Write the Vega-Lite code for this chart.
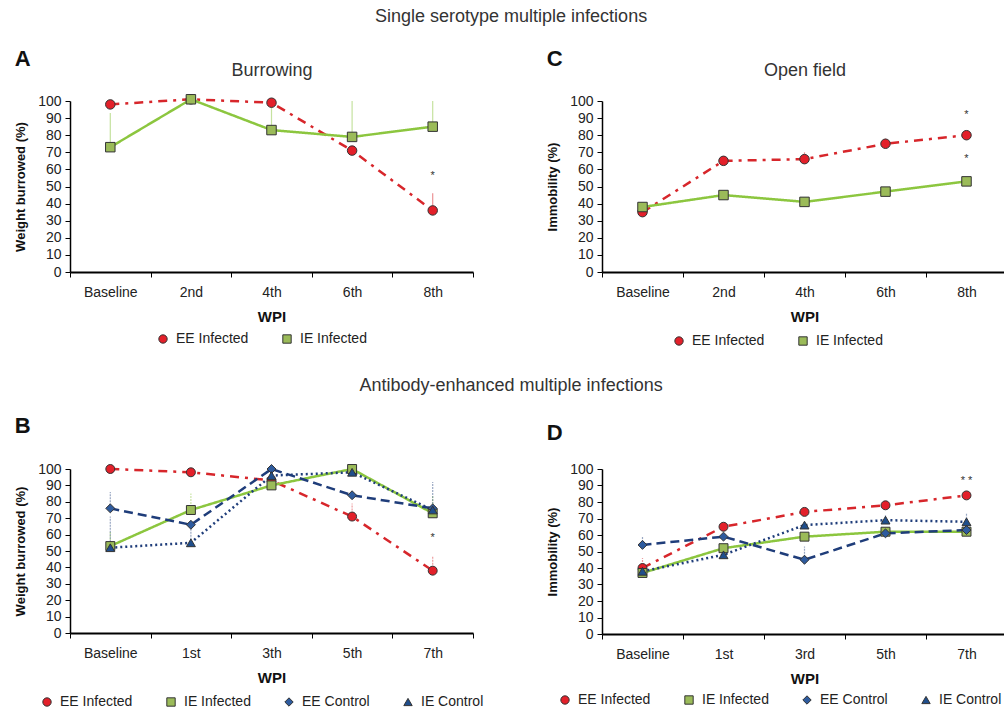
{
  "$schema": "https://vega.github.io/schema/vega-lite/v6.json",
  "padding": {"left": 14, "top": 8, "right": 0, "bottom": 0},
  "background": "white",
  "config": {
    "font": "Liberation Sans",
    "view": {"stroke": null},
    "axis": {"grid": false, "domainColor": "#000", "tickColor": "#000", "labelColor": "#222", "titleColor": "#111", "labelFont": "Liberation Sans", "titleFont": "Liberation Sans"},
    "axisY": {"labelFontSize": 14, "titleFontSize": 13, "titleFontWeight": "bold", "tickSize": 5, "labelPadding": 4, "titlePadding": 10, "domainWidth": 1.5},
    "axisX": {"labelFontSize": 14, "titleFontSize": 15, "titleFontWeight": "bold", "tickSize": 5, "labelPadding": 8, "titlePadding": 10, "domainWidth": 2, "tickBand": "extent", "labelAngle": 0},
    "legend": {"direction": "horizontal", "labelFontSize": 14, "labelColor": "#222", "labelFont": "Liberation Sans", "columnPadding": 31, "symbolSize": 70, "labelOffset": 6, "symbolOpacity": 1, "symbolStrokeColor": "#333", "symbolStrokeWidth": 1},
    "title": {"font": "Liberation Sans", "color": "#333"}
  },
  "resolve": {"scale": {"color": "independent", "stroke": "independent", "shape": "independent", "strokeDash": "independent"}, "legend": {"color": "independent", "shape": "independent", "stroke": "independent", "strokeDash": "independent"}},
  "datasets": {
    "pts": [
      {"p": "A", "s": "EE Infected", "w": "Baseline", "v": 98},
      {"p": "A", "s": "EE Infected", "w": "2nd", "v": 101},
      {"p": "A", "s": "EE Infected", "w": "4th", "v": 99},
      {"p": "A", "s": "EE Infected", "w": "6th", "v": 71},
      {"p": "A", "s": "EE Infected", "w": "8th", "v": 36, "e": 46},
      {"p": "A", "s": "IE Infected", "w": "Baseline", "v": 73, "e": 93},
      {"p": "A", "s": "IE Infected", "w": "2nd", "v": 101},
      {"p": "A", "s": "IE Infected", "w": "4th", "v": 83, "e": 99},
      {"p": "A", "s": "IE Infected", "w": "6th", "v": 79, "e": 100},
      {"p": "A", "s": "IE Infected", "w": "8th", "v": 85, "e": 100},
      {"p": "C", "s": "EE Infected", "w": "Baseline", "v": 35},
      {"p": "C", "s": "EE Infected", "w": "2nd", "v": 65},
      {"p": "C", "s": "EE Infected", "w": "4th", "v": 66, "e": 70},
      {"p": "C", "s": "EE Infected", "w": "6th", "v": 75, "e": 78},
      {"p": "C", "s": "EE Infected", "w": "8th", "v": 80},
      {"p": "C", "s": "IE Infected", "w": "Baseline", "v": 38},
      {"p": "C", "s": "IE Infected", "w": "2nd", "v": 45},
      {"p": "C", "s": "IE Infected", "w": "4th", "v": 41},
      {"p": "C", "s": "IE Infected", "w": "6th", "v": 47},
      {"p": "C", "s": "IE Infected", "w": "8th", "v": 53},
      {"p": "B", "s": "EE Infected", "w": "Baseline", "v": 100},
      {"p": "B", "s": "EE Infected", "w": "1st", "v": 98},
      {"p": "B", "s": "EE Infected", "w": "3th", "v": 93},
      {"p": "B", "s": "EE Infected", "w": "5th", "v": 71, "e": 79},
      {"p": "B", "s": "EE Infected", "w": "7th", "v": 38, "e": 47},
      {"p": "B", "s": "IE Infected", "w": "Baseline", "v": 53, "e": 62},
      {"p": "B", "s": "IE Infected", "w": "1st", "v": 75, "e": 85},
      {"p": "B", "s": "IE Infected", "w": "3th", "v": 90},
      {"p": "B", "s": "IE Infected", "w": "5th", "v": 100},
      {"p": "B", "s": "IE Infected", "w": "7th", "v": 73, "e": 84},
      {"p": "B", "s": "EE Control", "w": "Baseline", "v": 76, "e": 86},
      {"p": "B", "s": "EE Control", "w": "1st", "v": 66},
      {"p": "B", "s": "EE Control", "w": "3th", "v": 100},
      {"p": "B", "s": "EE Control", "w": "5th", "v": 84},
      {"p": "B", "s": "EE Control", "w": "7th", "v": 76},
      {"p": "B", "s": "IE Control", "w": "Baseline", "v": 52, "e": 71},
      {"p": "B", "s": "IE Control", "w": "1st", "v": 55, "e": 66},
      {"p": "B", "s": "IE Control", "w": "3th", "v": 96},
      {"p": "B", "s": "IE Control", "w": "5th", "v": 98},
      {"p": "B", "s": "IE Control", "w": "7th", "v": 75, "e": 92},
      {"p": "D", "s": "EE Infected", "w": "Baseline", "v": 40, "e": 46},
      {"p": "D", "s": "EE Infected", "w": "1st", "v": 65},
      {"p": "D", "s": "EE Infected", "w": "3rd", "v": 74},
      {"p": "D", "s": "EE Infected", "w": "5th", "v": 78},
      {"p": "D", "s": "EE Infected", "w": "7th", "v": 84},
      {"p": "D", "s": "IE Infected", "w": "Baseline", "v": 37},
      {"p": "D", "s": "IE Infected", "w": "1st", "v": 52},
      {"p": "D", "s": "IE Infected", "w": "3rd", "v": 59},
      {"p": "D", "s": "IE Infected", "w": "5th", "v": 62},
      {"p": "D", "s": "IE Infected", "w": "7th", "v": 62},
      {"p": "D", "s": "EE Control", "w": "Baseline", "v": 54, "e": 59},
      {"p": "D", "s": "EE Control", "w": "1st", "v": 59},
      {"p": "D", "s": "EE Control", "w": "3rd", "v": 45, "e": 53},
      {"p": "D", "s": "EE Control", "w": "5th", "v": 61},
      {"p": "D", "s": "EE Control", "w": "7th", "v": 63},
      {"p": "D", "s": "IE Control", "w": "Baseline", "v": 38},
      {"p": "D", "s": "IE Control", "w": "1st", "v": 48},
      {"p": "D", "s": "IE Control", "w": "3rd", "v": 66},
      {"p": "D", "s": "IE Control", "w": "5th", "v": 69, "e": 72},
      {"p": "D", "s": "IE Control", "w": "7th", "v": 68, "e": 73}
    ],
    "stars": [
      {"p": "A", "w": "8th", "v": 56, "t": "*"},
      {"p": "C", "w": "8th", "v": 92, "t": "*"},
      {"p": "C", "w": "8th", "v": 66, "t": "*"},
      {"p": "B", "w": "7th", "v": 58, "t": "*"},
      {"p": "D", "w": "7th", "v": 93, "t": "* *"}
    ]
  },
  "vconcat": [
    {
      "title": {"text": "Single serotype multiple infections", "fontSize": 18, "fontWeight": "normal", "offset": 22, "anchor": "middle"},
      "spacing": 72,
      "resolve": {"scale": {"color": "independent", "stroke": "independent", "shape": "independent", "strokeDash": "independent"}, "legend": {"color": "independent", "shape": "independent", "stroke": "independent", "strokeDash": "independent"}},
      "hconcat": [
        {
          "width": 403, "height": 171,
          "title": {"text": "A", "anchor": "start", "fontSize": 22, "fontWeight": "bold", "color": "#111", "offset": -10},
          "resolve": {"axis": {"x": "independent"}},
          "encoding": {
            "x": {"field": "w", "type": "nominal", "scale": {"type": "band", "domain": ["Baseline", "2nd", "4th", "6th", "8th"], "paddingInner": 0, "paddingOuter": 0}, "axis": null},
            "y": {"field": "v", "type": "quantitative", "scale": {"domain": [0, 100]}, "axis": {"title": "Weight burrowed (%)", "values": [0, 10, 20, 30, 40, 50, 60, 70, 80, 90, 100]}}
          },
          "layer": [
            {
              "data": {"name": "pts"},
              "transform": [{"filter": "datum.p == 'A' && isValid(datum.e)"}],
              "mark": {"type": "rule", "strokeWidth": 1.2, "opacity": 0.5},
              "encoding": {
                "y2": {"field": "e"},
                "stroke": {"field": "s", "type": "nominal", "scale": {"range": ["#d7262b", "#8cc63f"]}, "legend": null}
              }
            },
            {
              "data": {"name": "pts"},
              "transform": [{"filter": "datum.p == 'A'"}],
              "mark": {"type": "line", "strokeWidth": 2.5},
              "encoding": {
                "x": {"field": "w", "type": "nominal", "scale": {"type": "band", "domain": ["Baseline", "2nd", "4th", "6th", "8th"], "paddingInner": 0, "paddingOuter": 0}, "axis": {"title": "WPI", "orient": "bottom"}},
                "stroke": {"field": "s", "type": "nominal", "scale": {"range": ["#d7262b", "#8cc63f"]}, "legend": null},
                "strokeDash": {"field": "s", "type": "nominal", "scale": {"range": [[9, 6, 3, 6], [1, 0]]}, "legend": null}
              }
            },
            {
              "data": {"name": "pts"},
              "transform": [{"filter": "datum.p == 'A'"}],
              "mark": {"type": "point", "filled": true, "size": 90, "stroke": "#333", "strokeWidth": 1, "opacity": 1},
              "encoding": {
                "color": {"field": "s", "type": "nominal", "title": null, "scale": {"domain": ["EE Infected", "IE Infected"], "range": ["#e3202a", "#9bbb59"]}, "legend": {"orient": "none", "legendX": 86, "legendY": 231, "title": null, "encode": {"symbols": {"update": {"stroke": {"value": "#333"}, "strokeWidth": {"value": 1}, "opacity": {"value": 1}}}}}},
                "shape": {"field": "s", "type": "nominal", "title": null, "scale": {"domain": ["EE Infected", "IE Infected"], "range": ["circle", "square"]}}
              }
            },
            {
              "data": {"name": "stars"},
              "transform": [{"filter": "datum.p == 'A'"}],
              "mark": {"type": "text", "fontSize": 11, "color": "#333"},
              "encoding": {
                "x": {"field": "w", "type": "nominal", "scale": {"type": "band", "domain": ["Baseline", "2nd", "4th", "6th", "8th"], "paddingInner": 0, "paddingOuter": 0}, "axis": {"orient": "top", "title": "Burrowing", "labels": false, "ticks": false, "domain": false, "titleFontSize": 18, "titleFontWeight": "normal", "titleColor": "#333", "titlePadding": 22}},
                "text": {"field": "t"}
              }
            }
          ]
        },
        {
          "width": 405, "height": 171,
          "title": {"text": "C", "anchor": "start", "fontSize": 22, "fontWeight": "bold", "color": "#111", "offset": -10},
          "resolve": {"axis": {"x": "independent"}},
          "encoding": {
            "x": {"field": "w", "type": "nominal", "scale": {"type": "band", "domain": ["Baseline", "2nd", "4th", "6th", "8th"], "paddingInner": 0, "paddingOuter": 0}, "axis": null},
            "y": {"field": "v", "type": "quantitative", "scale": {"domain": [0, 100]}, "axis": {"title": "Immobility (%)", "values": [0, 10, 20, 30, 40, 50, 60, 70, 80, 90, 100]}}
          },
          "layer": [
            {
              "data": {"name": "pts"},
              "transform": [{"filter": "datum.p == 'C' && isValid(datum.e)"}],
              "mark": {"type": "rule", "strokeWidth": 1.2, "opacity": 0.5},
              "encoding": {
                "y2": {"field": "e"},
                "stroke": {"field": "s", "type": "nominal", "scale": {"range": ["#d7262b", "#8cc63f"]}, "legend": null}
              }
            },
            {
              "data": {"name": "pts"},
              "transform": [{"filter": "datum.p == 'C'"}],
              "mark": {"type": "line", "strokeWidth": 2.5},
              "encoding": {
                "x": {"field": "w", "type": "nominal", "scale": {"type": "band", "domain": ["Baseline", "2nd", "4th", "6th", "8th"], "paddingInner": 0, "paddingOuter": 0}, "axis": {"title": "WPI", "orient": "bottom"}},
                "stroke": {"field": "s", "type": "nominal", "scale": {"range": ["#d7262b", "#8cc63f"]}, "legend": null},
                "strokeDash": {"field": "s", "type": "nominal", "scale": {"range": [[9, 6, 3, 6], [1, 0]]}, "legend": null}
              }
            },
            {
              "data": {"name": "pts"},
              "transform": [{"filter": "datum.p == 'C'"}],
              "mark": {"type": "point", "filled": true, "size": 90, "stroke": "#333", "strokeWidth": 1, "opacity": 1},
              "encoding": {
                "color": {"field": "s", "type": "nominal", "title": null, "scale": {"domain": ["EE Infected", "IE Infected"], "range": ["#e3202a", "#9bbb59"]}, "legend": {"orient": "none", "legendX": 70, "legendY": 233, "title": null, "encode": {"symbols": {"update": {"stroke": {"value": "#333"}, "strokeWidth": {"value": 1}, "opacity": {"value": 1}}}}}},
                "shape": {"field": "s", "type": "nominal", "title": null, "scale": {"domain": ["EE Infected", "IE Infected"], "range": ["circle", "square"]}}
              }
            },
            {
              "data": {"name": "stars"},
              "transform": [{"filter": "datum.p == 'C'"}],
              "mark": {"type": "text", "fontSize": 11, "color": "#333"},
              "encoding": {
                "x": {"field": "w", "type": "nominal", "scale": {"type": "band", "domain": ["Baseline", "2nd", "4th", "6th", "8th"], "paddingInner": 0, "paddingOuter": 0}, "axis": {"orient": "top", "title": "Open field", "labels": false, "ticks": false, "domain": false, "titleFontSize": 18, "titleFontWeight": "normal", "titleColor": "#333", "titlePadding": 22}},
                "text": {"field": "t"}
              }
            }
          ]
        }
      ]
    },
    {
      "title": {"text": "Antibody-enhanced multiple infections", "fontSize": 18, "fontWeight": "normal", "offset": 20, "anchor": "middle"},
      "spacing": 62,
      "resolve": {"scale": {"color": "independent", "stroke": "independent", "shape": "independent", "strokeDash": "independent"}, "legend": {"color": "independent", "shape": "independent", "stroke": "independent", "strokeDash": "independent"}},
      "hconcat": [
        {
          "width": 403, "height": 164,
          "title": {"text": "B", "anchor": "start", "fontSize": 22, "fontWeight": "bold", "color": "#111", "offset": 24},
          "encoding": {
            "x": {"field": "w", "type": "nominal", "scale": {"type": "band", "domain": ["Baseline", "1st", "3th", "5th", "7th"], "paddingInner": 0, "paddingOuter": 0}, "axis": {"title": "WPI"}},
            "y": {"field": "v", "type": "quantitative", "scale": {"domain": [0, 100]}, "axis": {"title": "Weight burrowed (%)", "values": [0, 10, 20, 30, 40, 50, 60, 70, 80, 90, 100]}}
          },
          "layer": [
            {
              "data": {"name": "pts"},
              "transform": [{"filter": "datum.p == 'B' && isValid(datum.e)"}],
              "mark": {"type": "rule", "strokeWidth": 1.2, "opacity": 0.45, "strokeDash": [2, 1]},
              "encoding": {
                "y2": {"field": "e"},
                "stroke": {"field": "s", "type": "nominal", "scale": {"range": ["#1f3d7a", "#d7262b", "#1f3d7a", "#8cc63f"]}, "legend": null}
              }
            },
            {
              "data": {"name": "pts"},
              "transform": [{"filter": "datum.p == 'B'"}],
              "mark": {"type": "line", "strokeWidth": 2.5},
              "encoding": {
                "stroke": {"field": "s", "type": "nominal", "scale": {"range": ["#1f3d7a", "#d7262b", "#1f3d7a", "#8cc63f"]}, "legend": null},
                "strokeDash": {"field": "s", "type": "nominal", "scale": {"range": [[9, 5], [9, 6, 3, 6], [2, 3], [1, 0]]}, "legend": null}
              }
            },
            {
              "data": {"name": "pts"},
              "transform": [{"filter": "datum.p == 'B'"}],
              "mark": {"type": "point", "filled": true, "size": 80, "stroke": "#333", "strokeWidth": 1, "opacity": 1},
              "encoding": {
                "color": {"field": "s", "type": "nominal", "title": null, "scale": {"domain": ["EE Infected", "IE Infected", "EE Control", "IE Control"], "range": ["#e3202a", "#9bbb59", "#2e5b9e", "#1f4e8c"]}, "legend": {"orient": "none", "legendX": -30, "legendY": 226, "title": null, "encode": {"symbols": {"update": {"stroke": {"value": "#333"}, "strokeWidth": {"value": 1}, "opacity": {"value": 1}}}}}},
                "shape": {"field": "s", "type": "nominal", "title": null, "scale": {"domain": ["EE Infected", "IE Infected", "EE Control", "IE Control"], "range": ["circle", "square", "diamond", "triangle-up"]}}
              }
            },
            {
              "data": {"name": "stars"},
              "transform": [{"filter": "datum.p == 'B'"}],
              "mark": {"type": "text", "fontSize": 11, "color": "#333"},
              "encoding": {"text": {"field": "t"}}
            }
          ]
        },
        {
          "width": 405, "height": 165,
          "title": {"text": "D", "anchor": "start", "fontSize": 22, "fontWeight": "bold", "color": "#111", "offset": 17},
          "encoding": {
            "x": {"field": "w", "type": "nominal", "scale": {"type": "band", "domain": ["Baseline", "1st", "3rd", "5th", "7th"], "paddingInner": 0, "paddingOuter": 0}, "axis": {"title": "WPI"}},
            "y": {"field": "v", "type": "quantitative", "scale": {"domain": [0, 100]}, "axis": {"title": "Immobility (%)", "values": [0, 10, 20, 30, 40, 50, 60, 70, 80, 90, 100]}}
          },
          "layer": [
            {
              "data": {"name": "pts"},
              "transform": [{"filter": "datum.p == 'D' && isValid(datum.e)"}],
              "mark": {"type": "rule", "strokeWidth": 1.2, "opacity": 0.45, "strokeDash": [2, 1]},
              "encoding": {
                "y2": {"field": "e"},
                "stroke": {"field": "s", "type": "nominal", "scale": {"range": ["#1f3d7a", "#d7262b", "#1f3d7a", "#8cc63f"]}, "legend": null}
              }
            },
            {
              "data": {"name": "pts"},
              "transform": [{"filter": "datum.p == 'D'"}],
              "mark": {"type": "line", "strokeWidth": 2.5},
              "encoding": {
                "stroke": {"field": "s", "type": "nominal", "scale": {"range": ["#1f3d7a", "#d7262b", "#1f3d7a", "#8cc63f"]}, "legend": null},
                "strokeDash": {"field": "s", "type": "nominal", "scale": {"range": [[9, 5], [9, 6, 3, 6], [2, 3], [1, 0]]}, "legend": null}
              }
            },
            {
              "data": {"name": "pts"},
              "transform": [{"filter": "datum.p == 'D'"}],
              "mark": {"type": "point", "filled": true, "size": 80, "stroke": "#333", "strokeWidth": 1, "opacity": 1},
              "encoding": {
                "color": {"field": "s", "type": "nominal", "title": null, "scale": {"domain": ["EE Infected", "IE Infected", "EE Control", "IE Control"], "range": ["#e3202a", "#9bbb59", "#2e5b9e", "#1f4e8c"]}, "legend": {"orient": "none", "legendX": -44, "legendY": 224, "title": null, "encode": {"symbols": {"update": {"stroke": {"value": "#333"}, "strokeWidth": {"value": 1}, "opacity": {"value": 1}}}}}},
                "shape": {"field": "s", "type": "nominal", "title": null, "scale": {"domain": ["EE Infected", "IE Infected", "EE Control", "IE Control"], "range": ["circle", "square", "diamond", "triangle-up"]}}
              }
            },
            {
              "data": {"name": "stars"},
              "transform": [{"filter": "datum.p == 'D'"}],
              "mark": {"type": "text", "fontSize": 11, "color": "#333"},
              "encoding": {"text": {"field": "t"}}
            }
          ]
        }
      ]
    }
  ],
  "spacing": 29
}
